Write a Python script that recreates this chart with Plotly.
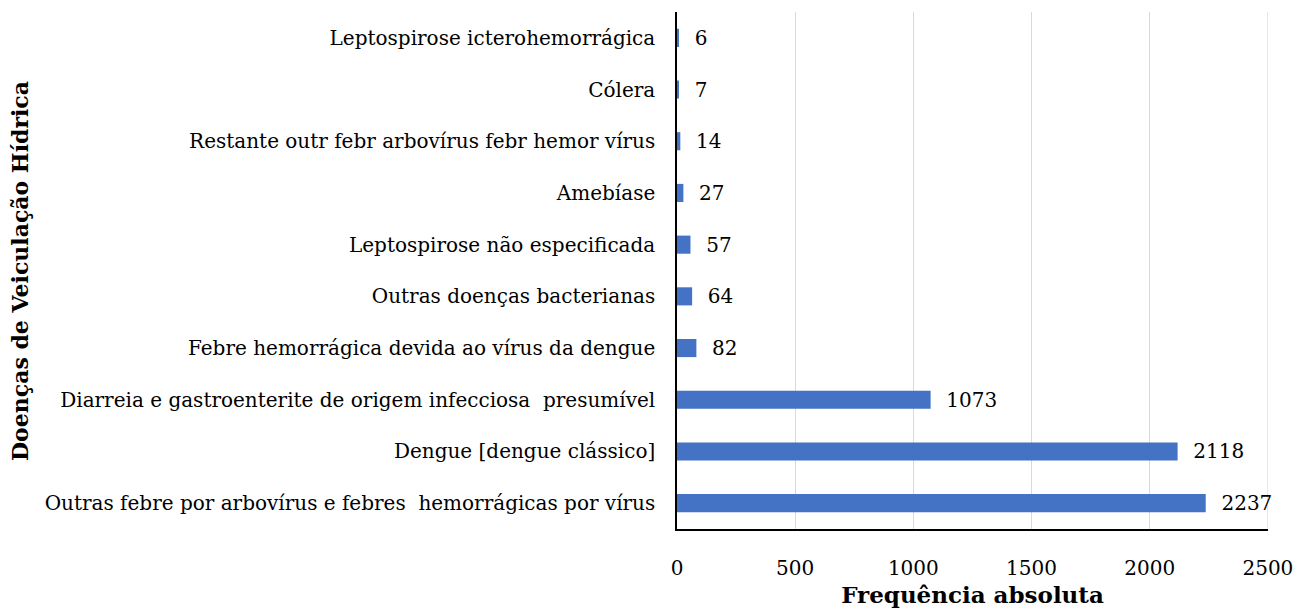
import plotly.graph_objects as go

categories = [
    "Outras febre por arbovírus e febres\u00a0 hemorrágicas por vírus",
    "Dengue [dengue clássico]",
    "Diarreia e gastroenterite de origem infecciosa\u00a0 presumível",
    "Febre hemorrágica devida ao vírus da dengue",
    "Outras doenças bacterianas",
    "Leptospirose não especificada",
    "Amebíase",
    "Restante outr febr arbovírus febr hemor vírus",
    "Cólera",
    "Leptospirose icterohemorrágica",
]
values = [2237, 2118, 1073, 82, 64, 57, 27, 14, 7, 6]
x_ticks = [0, 500, 1000, 1500, 2000, 2500]

FONT = "DejaVu Serif"

W, H = 1296, 608
L, R, T, B = 677, 28, 12, 79

fig = go.Figure(go.Bar(
    y=categories, x=values, orientation="h",
    marker=dict(color="#4472C4", line=dict(width=0)),
    text=["\u00a0\u00a0" + str(v) for v in values], textposition="outside",
    textfont=dict(family=FONT, size=20, color="#000000"),
    constraintext="none",
    cliponaxis=False,
))

fig.update_layout(
    width=W, height=H,
    margin=dict(l=L, r=R, t=T, b=B, autoexpand=False),
    paper_bgcolor="white", plot_bgcolor="white",
    bargap=0.65,
    showlegend=False,
    font=dict(family=FONT, size=20, color="#000000"),
    xaxis=dict(
        range=[0, 2500.5], tickvals=x_ticks, ticktext=[str(t) for t in x_ticks],
        showgrid=True, gridcolor="#D9D9D9", gridwidth=1,
        showline=True, linecolor="#000000", linewidth=1.5,
        zeroline=False, ticks="", ticklen=0,
        tickfont=dict(family=FONT, size=20),
        ticklabelstandoff=20, ticklabeloverflow="allow",
        automargin=False,
        title=dict(text="<b>Frequência absoluta</b>", font=dict(family=FONT, size=23), standoff=14),
    ),
    yaxis=dict(
        showline=True, linecolor="#000000", linewidth=1.5,
        showgrid=False, zeroline=False, ticks="",
        tickfont=dict(family=FONT, size=20),
        ticklabelstandoff=16, automargin=False,
    ),
    shapes=[dict(
        type="line", xref="x", yref="paper",
        x0=x_ticks[-1], x1=x_ticks[-1], y0=0, y1=1,
        line=dict(color="#D9D9D9", width=1), layer="below",
    )],
    annotations=[dict(
        text="<b>Doenças de Veiculação Hídrica</b>",
        xref="paper", yref="paper",
        x=(20 - L) / (W - L - R), y=(H - B - 271) / (H - T - B),
        xanchor="center", yanchor="middle", textangle=-90, showarrow=False,
        font=dict(family=FONT, size=22, color="#000000"),
    )],
)

fig.write_html(
    "out.html",
    config={"displayModeBar": False},
    post_script="document.body.style.margin='0';document.body.style.overflow='hidden';",
)
